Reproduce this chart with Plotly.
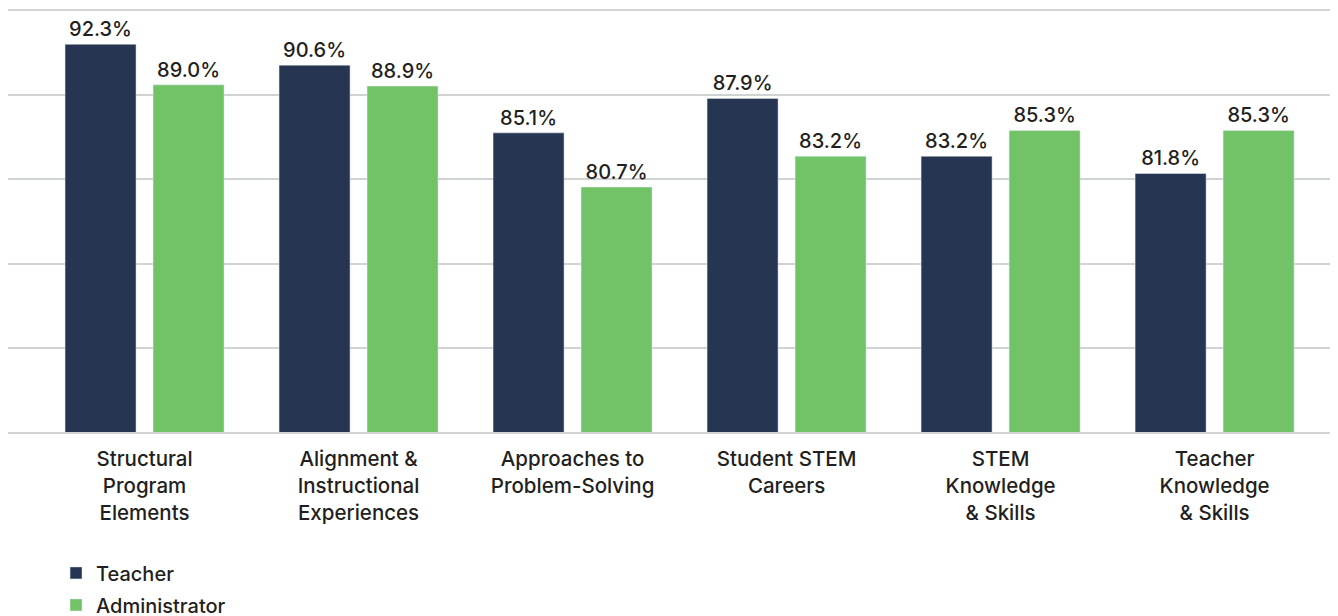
import plotly.graph_objects as go

categories = [
    "Structural<br>Program<br>Elements",
    "Alignment &<br>Instructional<br>Experiences",
    "Approaches to<br>Problem-Solving",
    "Student STEM<br>Careers",
    "STEM<br>Knowledge<br>& Skills",
    "Teacher<br>Knowledge<br>& Skills",
]
teacher = [92.3, 90.6, 85.1, 87.9, 83.2, 81.8]
administrator = [89.0, 88.9, 80.7, 83.2, 85.3, 85.3]
grid_values = [60.8, 67.64, 74.48, 81.32, 88.16, 95.0]

NAVY = "#263551"
GREEN = "#72C267"
TEXT = "#231f20"
GRID = "#cfd3d3"
FONT = "Inter"

x_idx = list(range(len(categories)))

fig = go.Figure()
fig.add_trace(go.Bar(
    name="Teacher", x=x_idx, y=teacher, marker_color=NAVY,
    legendgroup="t",
    text=[f"{v:.1f}%" for v in teacher], textposition="outside",
    textfont=dict(size=20, color=TEXT, family=FONT, weight=500), cliponaxis=False,
))
fig.add_trace(go.Bar(
    name="Administrator", x=x_idx, y=administrator, marker_color=GREEN,
    legendgroup="a",
    text=[f"{v:.1f}%" for v in administrator], textposition="outside",
    textfont=dict(size=20, color=TEXT, family=FONT, weight=500), cliponaxis=False,
))

fig.update_layout(
    width=1338, height=616,
    margin=dict(l=0, r=0, t=3, b=192, autoexpand=False),
    paper_bgcolor="white", plot_bgcolor="white",
    barmode="group", bargap=0.1776, bargroupgap=0.193,
    font=dict(family=FONT, size=20, color=TEXT, weight=500),
    showlegend=True,
    legend=dict(
        orientation="v", x=0.0359, xanchor="left",
        yref="container", y=0.1146, yanchor="top",
        font=dict(size=20, color=TEXT, family=FONT, weight=500),
        tracegroupgap=3, itemwidth=30,
    ),
)
fig.update_xaxes(
    tickmode="array", tickvals=x_idx, ticktext=categories,
    range=[-0.638, 5.614], showgrid=False, zeroline=False,
    showline=True, mirror=True, linecolor=GRID, linewidth=1.5,
    ticks="", tickfont=dict(size=20.5, color=TEXT, family=FONT, weight=500),
    ticklabelstandoff=8, automargin=False, fixedrange=True,
)
fig.update_yaxes(
    range=[grid_values[0], grid_values[-1]], tickmode="array",
    tickvals=grid_values, showticklabels=False,
    showgrid=True, gridcolor=GRID, gridwidth=1.5, zeroline=False,
    showline=False, ticks="", automargin=False, fixedrange=True,
)

fig.write_html("out.html")
